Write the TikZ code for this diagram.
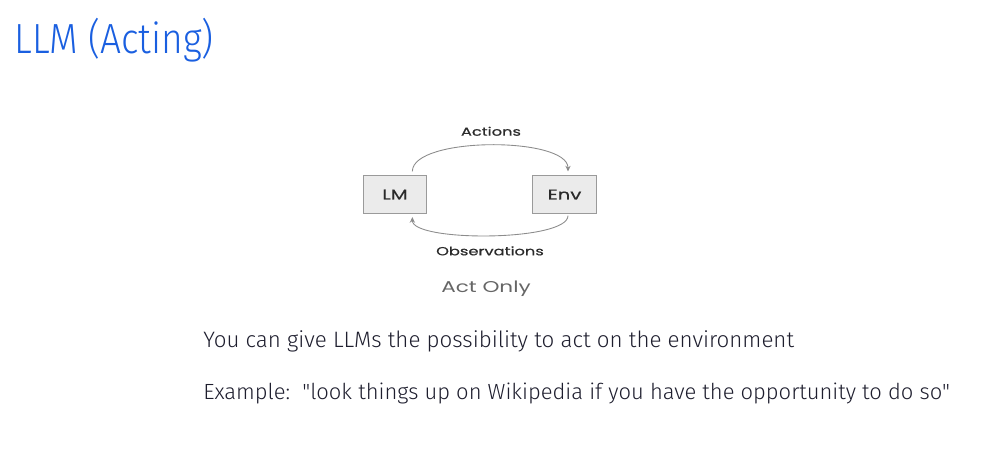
\documentclass[tikz,border=0pt]{standalone}
\usepackage{fontspec}
\setmainfont{Fira Sans}
\newfontfamily\titlefont[FakeStretch=0.88]{Fira Sans Light}
\newfontfamily\bodyfont{Fira Sans Light}
\newfontfamily\diagfont[FakeStretch=1.38,FakeBold=0.6]{Poppins}
\newfontfamily\captionfont[FakeStretch=1.38]{Poppins}
\usetikzlibrary{calc,arrows.meta}
\definecolor{titleblue}{HTML}{1A5FE0}
\definecolor{boxfill}{HTML}{EBEBEB}
\definecolor{boxline}{HTML}{9A9A9A}
\definecolor{arcline}{HTML}{8C8C8C}
\definecolor{darktext}{HTML}{1E1E2E}
\definecolor{labeltext}{HTML}{2A2A2A}
\definecolor{captiontext}{HTML}{666666}
\tikzset{
  px/.style={x=0.02cm,y=-0.02cm},
  agentbox/.style={draw=boxline,fill=boxfill,line width=0.7pt,minimum width=63.5*0.02cm,minimum height=38*0.02cm,inner sep=0pt,font=\diagfont\fontsize{8.1}{9}\selectfont,text=labeltext},
  arcarrow/.style={draw=arcline,line width=0.5pt,-{Stealth[length=3.2pt,width=3pt]}},
  arclabel/.style={font=\diagfont\fontsize{6.7}{8}\selectfont,text=labeltext,inner sep=0pt,anchor=base},
  bodytext/.style={font=\bodyfont\fontsize{12.7}{14}\selectfont,text=darktext,anchor=base west,inner sep=0pt},
}
\begin{document}
\begin{tikzpicture}[px]
\useasboundingbox (0,0) rectangle (1000,450);
\node[anchor=base west,inner sep=0pt,text=titleblue,font=\titlefont\fontsize{24}{28}\selectfont] (title) at (14,53) {LLM (Acting)};
\node[agentbox] (LM) at (395,194.5) {LM};
\node[agentbox] (Env) at (564.5,194.5) {Env};
\coordinate (a1) at ($(LM.north east)+(-15*0.02cm,3.5*0.02cm)$);
\coordinate (a2) at ($(Env.north)+(3.5*0.02cm,3.5*0.02cm)$);
\coordinate (b1) at ($(Env.south)+(3.5*0.02cm,-1.5*0.02cm)$);
\coordinate (b2) at ($(LM.south east)+(-15*0.02cm,-3*0.02cm)$);
\draw[arcarrow] (a1) .. controls ++(0,-35) and ++(0,-35) .. (a2);
\draw[arcarrow] (b1) .. controls ++(0,26) and ++(0,25) .. (b2);
\node[arclabel] (actions) at (491,135.7) {Actions};
\node[arclabel] (obs) at (490,255.3) {Observations};
\node[inner sep=0pt,anchor=base,text=captiontext,font=\captionfont\fontsize{8.9}{11}\selectfont] (caption) at (486,292.3) {Act Only};
\node[bodytext] (line1) at (203,347) {You can give LLMs the possibility to act on the environment};
\node[bodytext,font=\bodyfont\fontsize{12.5}{14}\selectfont] (line2) at (203,399) {Example:\ \ "look things up on Wikipedia if you have the opportunity to do so"};
\end{tikzpicture}
\end{document}
